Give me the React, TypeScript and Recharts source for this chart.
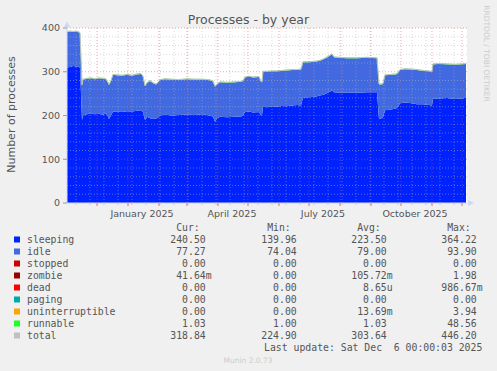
import React from "react";
import { ComposedChart, Area, Line, XAxis, YAxis, CartesianGrid, ReferenceLine } from "recharts";

// days since 1 Nov 2024 (400-day munin "by year" window)
const days = [
  0, 3, 6, 9, 12, 13, 15, 16, 20, 24,
  28, 32, 36, 39, 41, 42, 44, 46, 50, 55,
  60, 65, 70, 74, 76, 78, 80, 83, 86, 89,
  91, 93, 98, 105, 112, 120, 128, 135, 142, 146,
  148, 150, 153, 160, 168, 174, 176, 178, 182, 186,
  192, 194, 195, 196, 200, 205, 210, 215, 220, 225,
  230, 234, 236, 242, 248, 253, 257, 261, 265, 267,
  272, 280, 290, 300, 310, 312, 314, 316, 318, 324,
  329, 331, 333, 338, 345, 350, 356, 362, 365, 366,
  372, 380, 388, 395, 399,
];

const sleeping = [
  310, 311, 313, 312, 311, 309, 190, 200, 203, 205,
  203, 204, 202, 205, 198, 192, 200, 209, 209, 208,
  210, 209, 211, 212, 208, 190, 197, 194, 192, 193,
  195, 200, 202, 200, 201, 202, 201, 203, 200, 198,
  186, 194, 197, 196, 197, 198, 200, 208, 209, 207,
  208, 200, 201, 220, 219, 221, 220, 222, 221, 223,
  224, 223, 241, 242, 243, 246, 248, 252, 257, 253,
  252, 252, 252, 253, 253, 192, 193, 196, 212, 214,
  216, 220, 228, 230, 228, 226, 226, 224, 223, 239,
  239, 240, 238, 239, 240.5,
];

const idle = [
  81, 81, 78, 80, 79, 79, 79, 82, 81, 80,
  80, 81, 82, 78, 77, 78, 79, 84, 83, 83,
  83, 82, 83, 83, 81, 77, 77, 85, 82, 78,
  80, 81, 81, 82, 80, 81, 81, 79, 81, 80,
  80, 77, 79, 79, 79, 79, 79, 79, 80, 80,
  80, 77, 75, 80, 81, 80, 81, 80, 82, 81,
  80, 82, 81, 80, 80, 79, 81, 82, 83, 80,
  80, 79, 79, 79, 78, 79, 78, 76, 80, 79,
  78, 77, 76, 76, 77, 78, 76, 77, 76, 78,
  79, 77, 78, 78, 77.3,
];

const runnable = [
  1.0, 1.0, 1.1, 1.0, 1.0, 1.0, 1.1, 1.0, 1.0, 1.0,
  1.0, 1.0, 1.0, 1.0, 1.1, 1.0, 1.0, 1.0, 1.0, 1.0,
  1.0, 1.0, 1.0, 1.0, 1.0, 1.1, 1.0, 1.0, 1.0, 1.0,
  1.0, 1.0, 1.0, 1.0, 1.0, 1.0, 1.0, 1.0, 1.0, 1.0,
  1.1, 1.0, 1.0, 1.0, 1.0, 1.0, 1.0, 1.0, 1.0, 1.0,
  1.0, 1.0, 1.0, 1.0, 1.0, 1.0, 1.0, 1.0, 1.0, 1.0,
  1.0, 1.0, 1.0, 1.0, 1.0, 1.0, 1.0, 1.0, 1.0, 1.0,
  1.0, 1.0, 1.0, 1.0, 1.0, 1.1, 1.0, 1.0, 1.0, 1.0,
  1.0, 1.0, 1.0, 1.0, 1.0, 1.0, 1.0, 1.0, 1.0, 1.0,
  1.0, 1.0, 1.0, 1.0, 1.03,
];

const total = [
  392, 393, 392, 393, 391, 389, 270, 283, 285, 286,
  284, 286, 285, 284, 276, 271, 280, 294, 293, 292,
  294, 292, 295, 296, 290, 268, 275, 280, 275, 272,
  276, 282, 284, 283, 282, 284, 283, 283, 282, 279,
  267, 272, 277, 276, 277, 278, 280, 288, 290, 288,
  289, 278, 277, 301, 301, 302, 302, 303, 304, 305,
  305, 306, 323, 323, 324, 326, 330, 335, 341, 334,
  333, 332, 332, 333, 332, 272, 272, 273, 293, 294,
  295, 298, 305, 307, 306, 305, 303, 302, 300, 318,
  319, 318, 317, 318, 318.84,
];

// x grid: month starts (major) and biweekly Sundays (minor)
const monthStarts = [30, 61, 92, 120, 151, 181, 212, 242, 273, 304, 334, 365, 395];
const biweekly = [
  9, 23, 37, 51, 65, 79, 93, 107, 121, 135, 149, 163, 177, 191,
  205, 219, 233, 247, 261, 275, 289, 303, 317, 331, 345, 359, 373, 387,
];
const monthLabelDays = [75, 165, 256, 348];
const monthLabels = ["January 2025", "April 2025", "July 2025", "October 2025"];

const yTicks = [0, 100, 200, 300, 400];
const yMajor = [100, 200, 300, 400];
const yMinor = [20, 40, 60, 80, 120, 140, 160, 180, 220, 240, 260, 280, 320, 340, 360, 380];

const legendNames = ["sleeping", "idle", "stopped", "zombie", "dead", "paging", "uninterruptible", "runnable", "total"];
const legendColors = ["#0022ff", "#4169e1", "#cc0000", "#990000", "#ff0000", "#00aaaa", "#ffa500", "#22ff22", "#c0c0c0"];
const curVals = ["240.50", "77.27", "0.00", "41.64m", "0.00", "0.00", "0.00", "1.03", "318.84"];
const minVals = ["139.96", "74.04", "0.00", "0.00", "0.00", "0.00", "0.00", "1.00", "224.90"];
const avgVals = ["223.50", "79.00", "0.00", "105.72m", "8.65u", "0.00", "13.69m", "1.03", "303.64"];
const maxVals = ["364.22", "93.90", "0.00", "1.98", "986.67m", "0.00", "3.94", "48.56", "446.20"];

const data = days.map((d, i) => ({
  day: d,
  sleeping: sleeping[i],
  idle: idle[i],
  runnable: runnable[i],
  total: total[i],
}));

const FONT = "DejaVu Sans";
const MONO = "DejaVu Sans Mono";
const TXT = "#555";

function XTick(props: any) {
  const { x, y, payload } = props;
  const v = payload.value;
  const li = monthLabelDays.indexOf(v);
  if (li >= 0) {
    return (
      <text x={x} y={y + 13.5} textAnchor="middle" fontSize={9.5} fontFamily={FONT} fill={TXT}>
        {monthLabels[li]}
      </text>
    );
  }
  if (monthStarts.includes(v)) {
    return <line x1={x} x2={x} y1={y} y2={y + 3} stroke="#e07070" />;
  }
  return <line x1={x} x2={x} y1={y} y2={y + 2} stroke="#c8c8c8" />;
}

function Value({ x, y, s }: { x: number; y: number; s: string }) {
  const suf = /[a-z]$/.test(s) ? s.slice(-1) : "";
  const num = suf ? s.slice(0, -1) : s;
  return (
    <>
      <text x={x} y={y} textAnchor="end">{num}</text>
      {suf && <text x={x} y={y}>{suf}</text>}
    </>
  );
}

export default function App() {
  const cols = [205.7, 296.7, 386.7, 476.7];
  const heads = ["Cur:", "Min:", "Avg:", "Max:"];
  const vals = [curVals, minVals, avgVals, maxVals];
  return (
    <div style={{ position: "absolute", left: 0, top: 0, width: 497, height: 371, background: "#f0f0f0" }}>
      <ComposedChart
        width={497}
        height={371}
        data={data}
        margin={{ top: 28, right: 30, bottom: 148, left: 0 }}
      >
        <CartesianGrid fill="#ffffff" horizontal={false} vertical={false} stroke="none" />
        <XAxis
          dataKey="day"
          type="number"
          domain={[0, 400]}
          ticks={[...biweekly, ...monthStarts, ...monthLabelDays]}
          interval={0}
          tick={(p: any) => <XTick {...p} />}
          tickLine={false}
          tickSize={0}
          tickMargin={0}
          height={20}
          axisLine={{ stroke: "#cfd6f8" }}
        />
        <YAxis
          type="number"
          domain={[0, 400]}
          ticks={yTicks}
          width={67}
          tickSize={4}
          tickMargin={3}
          tick={{ fontSize: 9.5, fill: TXT, fontFamily: FONT }}
          axisLine={{ stroke: "#cfd6f8" }}
          tickLine={{ stroke: "#999" }}
        />
        <Area type="linear" dataKey="sleeping" stackId="p" fill="#0022ff" fillOpacity={1} stroke="none" isAnimationActive={false} />
        <Area type="linear" dataKey="idle" stackId="p" fill="#4169e1" fillOpacity={1} stroke="none" isAnimationActive={false} />
        <Area type="linear" dataKey="runnable" stackId="p" fill="#22ff22" fillOpacity={1} stroke="#22ff22" strokeOpacity={0.35} strokeWidth={1} isAnimationActive={false} />
        <Line type="linear" dataKey="total" stroke="#c0c0c0" strokeWidth={1} dot={false} activeDot={false} isAnimationActive={false} />
        {biweekly.map((d) => (
          <ReferenceLine key={"vb" + d} x={d} stroke="#b4b4b4" strokeOpacity={0.5} strokeDasharray="1 2" />
        ))}
        {yMinor.map((v) => (
          <ReferenceLine key={"hm" + v} y={v} stroke="#b4b4b4" strokeOpacity={0.5} strokeDasharray="1 2" />
        ))}
        {monthStarts.map((d) => (
          <ReferenceLine key={"vm" + d} x={d} stroke="#d85050" strokeOpacity={0.5} strokeDasharray="1 2" />
        ))}
        {yMajor.map((v) => (
          <ReferenceLine key={"hM" + v} y={v} stroke="#d85050" strokeOpacity={0.5} strokeDasharray="1 2" />
        ))}
      </ComposedChart>
      <svg width={497} height={371} style={{ position: "absolute", left: 0, top: 0, pointerEvents: "none" }}>
        <text x={248.5} y={24} textAnchor="middle" fontSize={12.5} fontFamily={FONT} fill={TXT}>
          Processes - by year
        </text>
        <text x={15} y={114.5} textAnchor="middle" fontSize={11} fontFamily={FONT} fill={TXT} transform="rotate(-90 15 114.5)">
          Number of processes
        </text>
        <text x={484} y={53.5} textAnchor="middle" fontSize={7.5} fontFamily={FONT} fill="#cccccc" transform="rotate(90 484 53.5)">
          RRDTOOL / TOBI OETIKER
        </text>
        <polygon points="64,27 70,27 67,21.5" fill="#cfd6f8" />
        <polygon points="468,200 468,206 474,203" fill="#cfd6f8" />
        <g fontFamily={MONO} fontSize={9.8} fill={TXT}>
          {heads.map((h, j) => (
            <text key={h} x={cols[j] - 5.95} y={231} textAnchor="end">{h}</text>
          ))}
          {legendNames.map((n, i) => {
            const by = 243 + 12 * i;
            return (
              <g key={n}>
                <rect x={14} y={by - 6.5} width={6} height={6} fill={legendColors[i]} />
                <text x={27} y={by}>{n}</text>
                {vals.map((arr, j) => (
                  <Value key={j} x={cols[j]} y={by} s={arr[i]} />
                ))}
              </g>
            );
          })}
          <text x={482.3} y={351} textAnchor="end" style={{ whiteSpace: "pre" }}>
            {"Last update: Sat Dec  6 00:00:03 2025"}
          </text>
        </g>
        <text x={248} y={362.5} textAnchor="middle" fontSize={7.5} fontFamily={FONT} fill="#cccccc">
          Munin 2.0.73
        </text>
      </svg>
    </div>
  );
}
